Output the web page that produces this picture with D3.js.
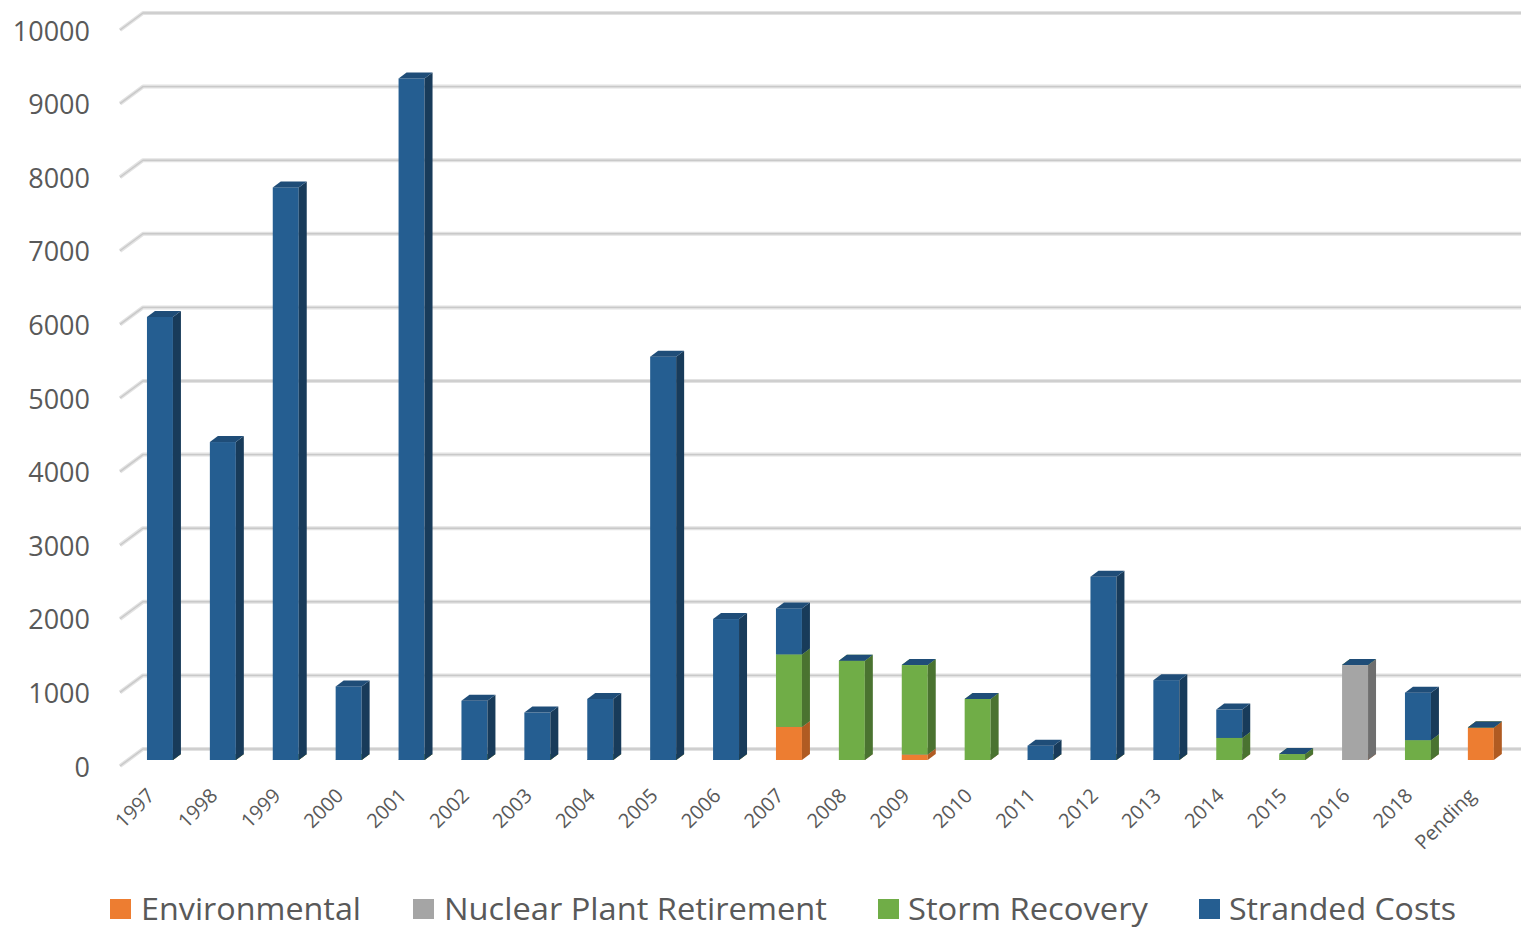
<!DOCTYPE html>
<html>
<head>
<meta charset="utf-8">
<script src="https://cdn.jsdelivr.net/npm/d3@7"></script>
<style>
  html, body { margin: 0; padding: 0; background: #fff; }
  svg { display: block; }
  text { font-family: "Open Sans", "Noto Sans", sans-serif; fill: #595959; }
</style>
</head>
<body>
<svg id="chart" width="1521" height="929"></svg>
<script>
// Securitization issuance by year and purpose
const categories = ["1997","1998","1999","2000","2001","2002","2003","2004","2005","2006","2007",
  "2008","2009","2010","2011","2012","2013","2014","2015","2016","2018","Pending"];

const environmental = [0,0,0,0,0,0,0,0,0,0,450,0,75,0,0,0,0,0,0,0,0,440];
const nuclearPlantRetirement = [0,0,0,0,0,0,0,0,0,0,0,0,0,0,0,0,0,0,0,1290,0,0];
const stormRecovery = [0,0,0,0,0,0,0,0,0,0,985,1350,1215,830,0,0,0,300,80,0,270,0];
const strandedCosts = [6020,4320,7780,1000,9260,805,645,830,5480,1915,625,0,0,0,195,2490,1085,385,0,0,645,0];

const seriesNames = ["Environmental","Nuclear Plant Retirement","Storm Recovery","Stranded Costs"];
const yTicks = [0,1000,2000,3000,4000,5000,6000,7000,8000,9000,10000];

const palette = {
  "Environmental":            { front: "#ed7d31", side: "#b05b22", top: "#d46c28" },
  "Nuclear Plant Retirement": { front: "#a5a5a5", side: "#6f6f6f", top: "#8c8c8c" },
  "Storm Recovery":           { front: "#70ad47", side: "#4a7330", top: "#5f933c" },
  "Stranded Costs":           { front: "#255e91", side: "#183b5a", top: "#1f4d78" }
};

const svg = d3.select("#chart");

// 3-D projection: bars sit part-way into the floor; walls recede up and to the right
const depth = { dx: 8, dy: -6 };      // bar thickness
const backOff = { dx: 23, dy: -17 };  // front edge -> back wall for gridlines
const frontShift = 6;                 // front gridline edge below the bar plane

const x = d3.scaleBand().domain(categories)
  .range([128.5, 1512.3]).paddingInner(0.587).paddingOuter(0.2935);
const y = d3.scaleLinear().domain([0, 10000]).range([760, 24]);

// Gridlines: short diagonal on the left side wall, then across the back wall
const grid = svg.append("g");
yTicks.forEach(v => {
  const yf = y(v) + frontShift;
  const xf = 120;
  const xb = xf + backOff.dx, yb = yf + backOff.dy;
  const path = `M${xf},${yf}L${xb},${yb}L1521,${yb}`;
  grid.append("path").attr("d", path).attr("fill", "none")
    .attr("stroke", "#e2e2e2").attr("stroke-width", 4).attr("stroke-linejoin", "round");
  grid.append("path").attr("d", path).attr("fill", "none")
    .attr("stroke", "#c9c9c9").attr("stroke-width", 1.4).attr("stroke-linejoin", "round");
});

// Y axis labels, aligned to the front edge of each gridline
svg.append("g").selectAll("text").data(yTicks).join("text")
  .attr("x", 90).attr("y", d => y(d) + frontShift)
  .attr("text-anchor", "end").attr("dominant-baseline", "central")
  .style("font-size", "27px")
  .text(d => d);

// Stack the series bottom-to-top
const rows = categories.map((c, i) => ({
  category: c,
  "Environmental": environmental[i],
  "Nuclear Plant Retirement": nuclearPlantRetirement[i],
  "Storm Recovery": stormRecovery[i],
  "Stranded Costs": strandedCosts[i]
}));
const stacked = d3.stack().keys(seriesNames)(rows);

const bars = svg.append("g");
categories.forEach((c, i) => {
  const g = bars.append("g");
  const x0 = x(c), w = x.bandwidth();
  stacked.forEach(layer => {
    const seg = layer[i];
    const col = palette[layer.key];
    const yTop = y(seg[1]), yBot = y(seg[0]);
    // front face
    g.append("rect").attr("x", x0).attr("y", yTop)
      .attr("width", w).attr("height", Math.max(0, yBot - yTop))
      .attr("fill", col.front);
    // right side face
    g.append("path")
      .attr("d", `M${x0 + w},${yBot}L${x0 + w + depth.dx},${yBot + depth.dy}L${x0 + w + depth.dx},${yTop + depth.dy}L${x0 + w},${yTop}Z`)
      .attr("fill", col.side);
    // top face
    g.append("path")
      .attr("d", `M${x0},${yTop}L${x0 + depth.dx},${yTop + depth.dy}L${x0 + w + depth.dx},${yTop + depth.dy}L${x0 + w},${yTop}Z`)
      .attr("fill", col.top);
  });
});

// Category labels, rotated 45 degrees
svg.append("g").selectAll("text").data(categories).join("text")
  .attr("transform", d => `translate(${x(d) + x.bandwidth() / 2 - 4},${797}) rotate(-45)`)
  .attr("text-anchor", "end")
  .style("font-size", "20px")
  .text(d => d);

// Legend
const legendItems = [
  { name: "Environmental",            sx: 110,  tx: 141,  tw: 220 },
  { name: "Nuclear Plant Retirement", sx: 413,  tx: 444,  tw: 383 },
  { name: "Storm Recovery",           sx: 878,  tx: 908,  tw: 240 },
  { name: "Stranded Costs",           sx: 1199, tx: 1229, tw: 227 }
];
const legend = svg.append("g");
legendItems.forEach(it => {
  legend.append("rect").attr("x", it.sx).attr("y", 899).attr("width", 21).attr("height", 20)
    .attr("fill", palette[it.name].front);
  legend.append("text").attr("x", it.tx).attr("y", 920)
    .style("font-size", "31px")
    .attr("textLength", it.tw).attr("lengthAdjust", "spacingAndGlyphs")
    .text(it.name);
});
</script>
</body>
</html>
